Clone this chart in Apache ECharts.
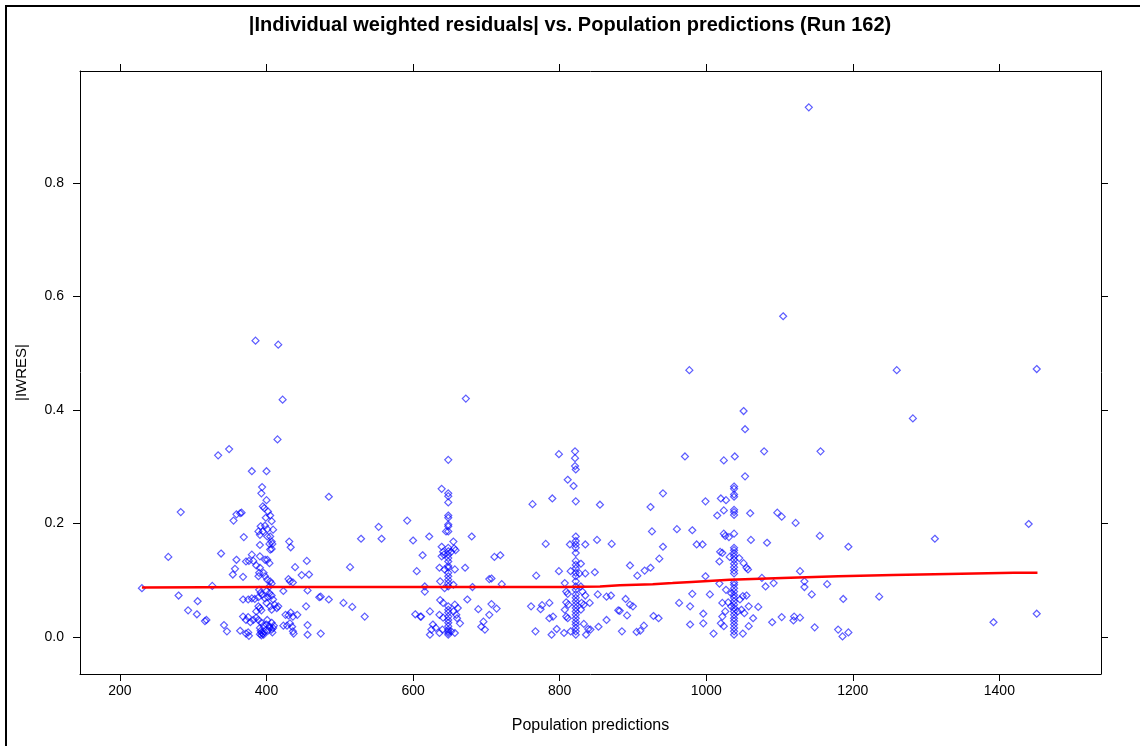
<!DOCTYPE html>
<html><head><meta charset="utf-8">
<script src="https://cdn.jsdelivr.net/npm/echarts@6/dist/echarts.min.js"></script>
<style>html,body{margin:0;padding:0;background:#fff}#c{width:1140px;height:746px}</style>
</head><body><div id="c"></div>
<script>
// ---- data ----
const titleText = '|Individual weighted residuals| vs. Population predictions (Run 162)';
const xName = 'Population predictions';
const yName = '|IWRES|';
const xTicks = [200, 400, 600, 800, 1000, 1200, 1400];
const yTicks = [0.0, 0.2, 0.4, 0.6, 0.8];

const leftTail = [[230,0.086],[266,0.141],[280,0.073],[283,0.220],[293,0.047],[305,0.040],[306,0.063],[316,0.028],[318,0.030],[326,0.090],[334,0.320],[338,0.147],[342,0.021],[346,0.010],[349,0.331]];

const group400 = [[385,0.522],[416,0.515],[422,0.418],[415,0.348],[380,0.292],[400,0.292],
[394,0.264],[393,0.253],[400,0.241],[395,0.230],[397,0.227],[359,0.216],[364,0.218],[366,0.219],[355,0.205],[402,0.221],[405,0.214],[399,0.210],[407,0.204],[392,0.195],[398,0.196],[401,0.190],[409,0.189],[389,0.186],[395,0.186],[369,0.176],[391,0.180],[401,0.177],[405,0.177],[407,0.168],[404,0.164],[408,0.164],[391,0.162],[431,0.168],[433,0.158],[405,0.154],[407,0.155],[380,0.145],[376,0.134],[382,0.134],[391,0.142],[398,0.136],[401,0.136],[404,0.130],[359,0.136],[372,0.133],[357,0.120],[354,0.110],[368,0.106],[386,0.126],[391,0.122],[390,0.113],[389,0.107],[396,0.113],[398,0.107],[401,0.101],[405,0.098],[407,0.094],[404,0.089],[439,0.123],[448,0.109],[455,0.134],[430,0.102],[436,0.096],[432,0.098],[423,0.081],[456,0.082],
[390,0.083],[392,0.078],[394,0.074],[389,0.070],[400,0.081],[404,0.077],[398,0.068],[402,0.070],[407,0.073],[409,0.066],
[368,0.066],[375,0.066],[380,0.068],[384,0.067],[411,0.057],[414,0.051],[416,0.054],[389,0.054],[391,0.051],[386,0.045],[393,0.047],[400,0.060],[405,0.054],[407,0.048],[433,0.043],[430,0.038],[426,0.039],[436,0.036],[442,0.039],[454,0.054],[368,0.036],[372,0.030],[375,0.035],[378,0.026],[382,0.030],[386,0.034],
[389,0.030],[393,0.025],[396,0.020],[400,0.022],[404,0.017],[407,0.025],[410,0.020],[401,0.030],
[364,0.011],[372,0.006],[375,0.008],[376,0.002],[391,0.016],[392,0.011],[393,0.008],[395,0.006],[397,0.009],[393,0.003],[391,0.005],[396,0.004],[404,0.019],[407,0.013],[409,0.016],[402,0.011],[408,0.008],[423,0.020],[428,0.020],[432,0.024],[435,0.018],[436,0.010],[437,0.006],[456,0.021],[456,0.004],
[485,0.247],[529,0.173],[458,0.110],[514,0.123],[472,0.070],[474,0.071],[485,0.066],[505,0.060],[517,0.053],[534,0.036],[474,0.006]];

const group650 = [[553,0.194],[557,0.173],[592,0.205],[600,0.170],[605,0.116],[603,0.040],[610,0.036],[672,0.420],[648,0.312],[711,0.141],[719,0.144],[707,0.103],[721,0.093],[707,0.058],[714,0.050],[622,0.177],
[648,0.253],[648,0.248],[648,0.237],[648,0.214],[648,0.210],[648,0.198],[648,0.195],[648,0.186],[648,0.157],[648,0.151],[648,0.145],[648,0.139],[648,0.133],[648,0.125],[648,0.122],[648,0.113],[648,0.107],[648,0.101],[648,0.095],[648,0.089],[648,0.054],[648,0.048],[648,0.043],[648,0.036],[648,0.030],[648,0.025],[648,0.019],[648,0.013],[648,0.010],[648,0.007],[648,0.004],
[639,0.261],[645,0.186],[680,0.177],[655,0.168],[656,0.156],[652,0.150],[658,0.153],[639,0.159],[641,0.150],[642,0.145],[639,0.142],[613,0.144],[636,0.122],[643,0.119],[657,0.119],[671,0.122],[637,0.098],[643,0.086],[655,0.092],[616,0.089],[616,0.080],[681,0.088],[704,0.102],[674,0.066],[637,0.065],[641,0.060],[657,0.057],[661,0.051],[655,0.045],[689,0.049],[623,0.045],[611,0.036],[636,0.039],[641,0.034],[659,0.039],[660,0.033],[664,0.024],[704,0.039],[627,0.022],[631,0.016],[625,0.013],[636,0.007],[640,0.013],[657,0.007],[652,0.010],[623,0.004],[693,0.018],[698,0.013],[696,0.027]];

const group820 = [[821,0.327],[821,0.315],[821,0.301],[799,0.322],[763,0.234],[768,0.108],[761,0.054],[774,0.049],[776,0.056],[767,0.010],[880,0.047],
[822,0.295],[822,0.177],[822,0.169],[822,0.163],[822,0.157],[822,0.148],[822,0.134],[822,0.127],[822,0.121],[822,0.113],[822,0.107],[822,0.098],[822,0.089],[822,0.083],[822,0.075],[822,0.069],[822,0.063],[822,0.057],[822,0.051],[822,0.045],[822,0.039],[822,0.033],[822,0.027],[822,0.022],[822,0.016],[822,0.010],[822,0.004],
[811,0.277],[819,0.266],[790,0.244],[822,0.239],[855,0.233],[781,0.164],[814,0.163],[835,0.163],[851,0.171],[871,0.164],[799,0.116],[815,0.116],[829,0.129],[827,0.112],[835,0.112],[848,0.114],[807,0.095],[809,0.080],[811,0.076],[829,0.089],[831,0.080],[835,0.073],[852,0.075],[864,0.071],[870,0.073],[786,0.060],[809,0.061],[812,0.057],[807,0.048],[809,0.036],[811,0.033],[830,0.060],[833,0.057],[829,0.048],[841,0.060],[786,0.033],[791,0.036],[864,0.030],[833,0.023],[839,0.014],[842,0.013],[853,0.018],[796,0.014],[789,0.004],[806,0.007],[815,0.010],[836,0.004]];

const group1040 = [[1105,0.565],[977,0.470],[1051,0.398],[1053,0.366],[1079,0.327],[1156,0.327],[971,0.318],[1024,0.311],[1039,0.318],[941,0.253],[924,0.229],[1097,0.219],[1103,0.212],[1122,0.201],[926,0.186],[960,0.190],[981,0.188],[1155,0.178],[1194,0.159],[941,0.159],[987,0.163],[936,0.138],[896,0.126],[916,0.117],[924,0.122],[906,0.108],[1128,0.116],[1134,0.098],[1134,0.088],[1144,0.075],[1165,0.093],[1187,0.067],[981,0.076],[890,0.067],[896,0.057],[900,0.054],[963,0.060],[978,0.054],[892,0.038],[882,0.046],[928,0.037],[935,0.033],[978,0.022],[885,0.010],[905,0.009],[910,0.011],[915,0.020],[1103,0.035],[1119,0.029],[1120,0.036],[1128,0.034],[1148,0.017],[1180,0.013],[1186,0.001],[1194,0.008],
[1038,0.265],[1038,0.261],[1038,0.251],[1038,0.247],[1038,0.224],[1038,0.220],[1038,0.215],[1038,0.182],[1038,0.157],[1038,0.153],[1038,0.148],[1038,0.142],[1038,0.136],[1038,0.129],[1038,0.123],[1038,0.117],[1038,0.112],[1038,0.096],[1038,0.092],[1038,0.086],[1038,0.080],[1038,0.074],[1038,0.069],[1038,0.063],[1038,0.057],[1038,0.051],[1038,0.045],[1038,0.039],[1038,0.033],[1038,0.028],[1038,0.022],[1038,0.016],[1038,0.010],[1038,0.004],
[1053,0.283],[999,0.239],[1020,0.244],[1027,0.241],[1024,0.223],[1015,0.214],[1060,0.218],[1024,0.182],[1031,0.176],[1026,0.178],[1061,0.171],[1083,0.166],[995,0.163],[1019,0.150],[1022,0.148],[1032,0.141],[1045,0.139],[1018,0.133],[1051,0.130],[1055,0.122],[1057,0.119],[999,0.107],[1076,0.104],[1081,0.089],[1092,0.095],[1018,0.094],[1005,0.075],[1027,0.083],[1034,0.077],[1050,0.072],[1055,0.073],[1046,0.066],[1022,0.060],[1030,0.061],[1034,0.054],[1026,0.045],[1043,0.045],[1048,0.048],[1058,0.054],[1052,0.042],[1071,0.053],[1064,0.033],[1022,0.036],[1020,0.024],[996,0.041],[996,0.024],[1058,0.019],[1090,0.026],[1024,0.019],[1050,0.006],[1010,0.006]];

const rightTail = [[1140,0.933],[1260,0.470],[1282,0.385],[1312,0.173],[1236,0.071],[1392,0.026],[1440,0.199],[1451,0.472],[1451,0.041]];

const smoothX = [230, 400, 600, 805, 855, 882, 927, 954, 980, 1032, 1104, 1180, 1255, 1330, 1420, 1452];
const smoothY = [0.087, 0.088, 0.088, 0.088, 0.089, 0.091, 0.093, 0.095, 0.097, 0.101, 0.104, 0.107, 0.109, 0.111, 0.113, 0.113];

// ---- chart ----
const X_MIN = 145.5, X_MAX = 1538.7, Y_MIN = -0.0652, Y_MAX = 0.997;
const FONT = 'Liberation Sans, Arial, sans-serif';
const points = [].concat(leftTail, group400, group650, group820, group1040, rightTail);
const smoothData = smoothX.map((x, i) => [x, smoothY[i]]);

const axisLineStyle = { show: true, onZero: false, lineStyle: { color: '#000', width: 1 } };
const tickStyle = { show: true, length: 7, inside: false, lineStyle: { color: '#000', width: 1 } };

const chart = echarts.init(document.getElementById('c'), null, { renderer: 'canvas' });
chart.setOption({
  animation: false,
  backgroundColor: '#fff',
  title: {
    text: titleText, left: 'center', top: 15, padding: 0,
    textStyle: { fontFamily: FONT, fontSize: 20, fontWeight: 'bold', color: '#000' }
  },
  graphic: [{
    type: 'rect', shape: { x: 6, y: 6, width: 1200, height: 800 },
    style: { fill: 'none', stroke: '#000', lineWidth: 2 }, silent: true, z: 100
  }],
  grid: { left: 80, right: 39, top: 71, bottom: 72, show: false },
  xAxis: [{
    type: 'value', position: 'bottom', min: X_MIN, max: X_MAX,
    axisLine: axisLineStyle,
    axisTick: Object.assign({ customValues: xTicks }, tickStyle),
    axisLabel: { customValues: xTicks, color: '#000', fontSize: 14, fontFamily: FONT, margin: 10,
      formatter: v => String(v) },
    splitLine: { show: false },
    name: xName, nameLocation: 'middle', nameGap: 44,
    nameTextStyle: { fontFamily: FONT, fontSize: 16, color: '#000' }
  }, {
    type: 'value', position: 'top', min: X_MIN, max: X_MAX,
    axisLine: axisLineStyle,
    axisTick: Object.assign({ customValues: xTicks }, tickStyle),
    axisLabel: { show: false }, splitLine: { show: false }
  }],
  yAxis: [{
    type: 'value', position: 'left', min: Y_MIN, max: Y_MAX,
    axisLine: axisLineStyle,
    axisTick: Object.assign({ customValues: yTicks }, tickStyle),
    axisLabel: { customValues: yTicks, color: '#000', fontSize: 14, fontFamily: FONT, margin: 16,
      formatter: v => v.toFixed(1) },
    splitLine: { show: false },
    name: yName, nameLocation: 'middle', nameGap: 51, nameRotate: 90,
    nameTextStyle: { fontFamily: FONT, fontSize: 15, color: '#000' }
  }, {
    type: 'value', position: 'right', min: Y_MIN, max: Y_MAX,
    axisLine: axisLineStyle,
    axisTick: Object.assign({ customValues: yTicks }, tickStyle),
    axisLabel: { show: false }, splitLine: { show: false }
  }],
  series: [{
    type: 'scatter', xAxisIndex: 0, yAxisIndex: 0,
    data: points, symbol: 'diamond', symbolSize: 7,
    itemStyle: { color: 'rgba(0,0,0,0)', borderColor: 'rgba(0,0,255,0.8)', borderWidth: 1.2 },
    z: 2
  }, {
    type: 'line', xAxisIndex: 0, yAxisIndex: 0,
    data: smoothData, showSymbol: false, symbol: 'none',
    lineStyle: { color: '#ff0000', width: 2.5 }, z: 3
  }]
});
</script>
</body></html>
